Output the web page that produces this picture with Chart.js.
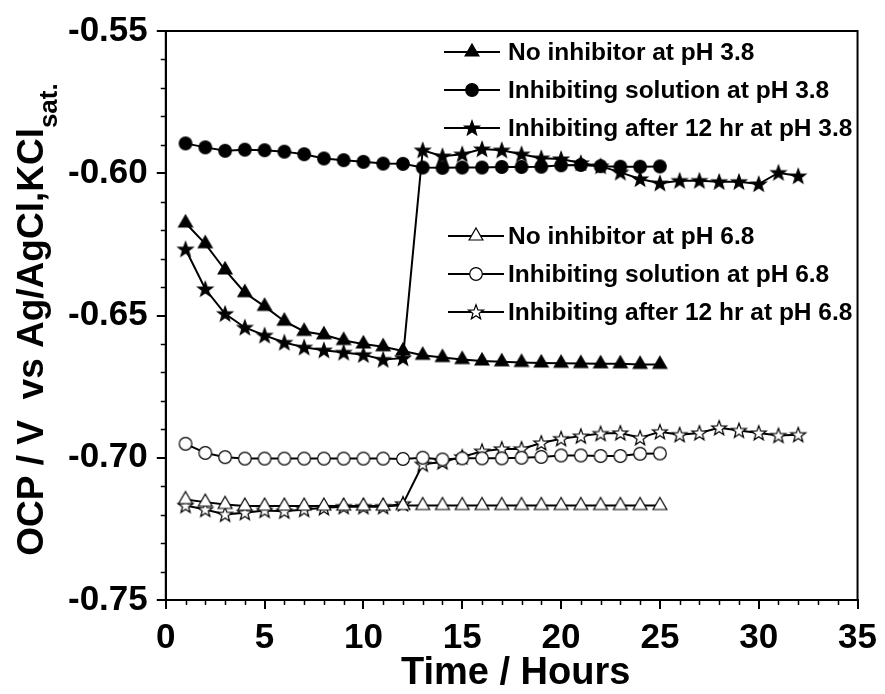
<!DOCTYPE html>
<html>
<head>
<meta charset="utf-8">
<script src="https://cdn.jsdelivr.net/npm/chart.js@4.4.1/dist/chart.umd.min.js"></script>
<style>
  html, body { margin: 0; padding: 0; background: #fff; }
</style>
</head>
<body>
<canvas id="ocpChart" width="885" height="694"></canvas>
<script>
// time axis (hours)
const hoursShort = [1, 2, 3, 4, 5, 6, 7, 8, 9, 10, 11, 12, 13, 14, 15, 16, 17, 18, 19, 20, 21, 22, 23, 24, 25];
const hoursLong = [1, 2, 3, 4, 5, 6, 7, 8, 9, 10, 11, 12, 13, 14, 15, 16, 17, 18, 19, 20, 21, 22, 23, 24, 25,
                   26, 27, 28, 29, 30, 31, 32];

// OCP (V vs Ag/AgCl, KCl sat.) - pH 3.8
const noInhib38 = [-0.6175, -0.6248, -0.6340, -0.6420, -0.6468, -0.6520, -0.6556, -0.6568, -0.6588, -0.6600,
                   -0.6610, -0.6625, -0.6640, -0.6648, -0.6655, -0.6660, -0.6663, -0.6665, -0.6667, -0.6668,
                   -0.6669, -0.6670, -0.6670, -0.6672, -0.6672];
const inhibSol38 = [-0.5895, -0.5909, -0.5921, -0.5917, -0.5919, -0.5924, -0.5933, -0.5948, -0.5954, -0.5960,
                    -0.5966, -0.5967, -0.5980, -0.5981, -0.5980, -0.5980, -0.5978, -0.5978, -0.5977, -0.5972,
                    -0.5971, -0.5975, -0.5977, -0.5977, -0.5976];
const inhibAfter38 = [-0.6267, -0.6407, -0.6494, -0.6542, -0.6570, -0.6595, -0.6612, -0.6622, -0.6630, -0.6638,
                      -0.6655, -0.6650, -0.5919, -0.5940, -0.5933, -0.5915, -0.5919, -0.5933, -0.5947, -0.5950,
                      -0.5964, -0.5975, -0.5997, -0.6020, -0.6035, -0.6026, -0.6026, -0.6030, -0.6030, -0.6038,
                      -0.5998, -0.6010];

// OCP - pH 6.8
const noInhib68 = [-0.7147, -0.7156, -0.7164, -0.7170, -0.7170, -0.7170, -0.7170, -0.7170, -0.7170, -0.7170,
                   -0.7170, -0.7168, -0.7168, -0.7168, -0.7168, -0.7168, -0.7168, -0.7168, -0.7168, -0.7168,
                   -0.7168, -0.7168, -0.7168, -0.7168, -0.7168];
const inhibSol68 = [-0.6951, -0.6983, -0.6998, -0.7003, -0.7003, -0.7003, -0.7003, -0.7003, -0.7003, -0.7003,
                    -0.7003, -0.7004, -0.7000, -0.7006, -0.7002, -0.7002, -0.7002, -0.7000, -0.6997, -0.6992,
                    -0.6992, -0.6994, -0.6994, -0.6986, -0.6985];
const inhibAfter68 = [-0.7168, -0.7182, -0.7199, -0.7193, -0.7185, -0.7188, -0.7182, -0.7176, -0.7172, -0.7172,
                      -0.7172, -0.7162, -0.7023, -0.7015, -0.6997, -0.6977, -0.6969, -0.6969, -0.6948, -0.6933,
                      -0.6924, -0.6915, -0.6913, -0.6930, -0.6909, -0.6919, -0.6913, -0.6895, -0.6904, -0.6913,
                      -0.6922, -0.6919];

const legendTop = ['No inhibitor at pH 3.8', 'Inhibiting solution at pH 3.8', 'Inhibiting after 12 hr at pH 3.8'];
const legendBottom = ['No inhibitor at pH 6.8', 'Inhibiting solution at pH 6.8', 'Inhibiting after 12 hr at pH 6.8'];

const FONT = '"Liberation Sans", Arial, sans-serif';

// small canvases used as point markers
function makeMarker(shape, filled) {
    const size = 20;
    const c = document.createElement('canvas');
    c.width = size; c.height = size;
    const g = c.getContext('2d');
    const m = size / 2;
    g.beginPath();
    if (shape === 'triangle') {
        const r = 8;
        g.moveTo(m, m - r);
        g.lineTo(m + r * 0.866, m + r * 0.5);
        g.lineTo(m - r * 0.866, m + r * 0.5);
        g.closePath();
    } else if (shape === 'circle') {
        g.arc(m, m, 6.3, 0, Math.PI * 2);
    } else {
        const ro = 7.8, ri = 3.2;
        for (let i = 0; i < 10; i++) {
            const r = i % 2 === 0 ? ro : ri;
            const a = -Math.PI / 2 + i * Math.PI / 5;
            const px = m + r * Math.cos(a), py = m + 0.5 + r * Math.sin(a);
            if (i === 0) g.moveTo(px, py); else g.lineTo(px, py);
        }
        g.closePath();
    }
    g.fillStyle = filled ? '#000' : '#fff';
    g.fill();
    g.lineWidth = 1.2;
    g.strokeStyle = '#000';
    g.stroke();
    return c;
}

const markers = {
    triFull: makeMarker('triangle', true),
    dotFull: makeMarker('circle', true),
    starFull: makeMarker('star', true),
    triOpen: makeMarker('triangle', false),
    dotOpen: makeMarker('circle', false),
    starOpen: makeMarker('star', false)
};

function pairs(xs, ys) {
    return ys.map((y, i) => ({ x: xs[i], y: y }));
}

function series(label, xs, ys, marker) {
    return {
        label: label,
        data: pairs(xs, ys),
        borderColor: '#000',
        borderWidth: 2,
        pointStyle: marker,
        pointRadius: 7,
        tension: 0,
        fill: false
    };
}

// frame, minor ticks, axis titles and the two legend blocks
const decorations = {
    id: 'decorations',
    afterDraw(chart) {
        const ctx = chart.ctx;
        const a = chart.chartArea;
        const xs = chart.scales.x, ys = chart.scales.y;
        ctx.save();
        ctx.strokeStyle = '#000';
        ctx.lineWidth = 2;
        ctx.strokeRect(a.left, a.top, a.right - a.left, a.bottom - a.top);

        // minor ticks
        ctx.lineWidth = 1.5;
        ctx.beginPath();
        for (let h = 1; h < 35; h++) {
            if (h % 5 === 0) continue;
            const px = Math.round(xs.getPixelForValue(h)) + 0.5;
            ctx.moveTo(px, a.bottom);
            ctx.lineTo(px, a.bottom + 5);
        }
        for (let k = 1; k < 20; k++) {
            if (k % 5 === 0) continue;
            const py = Math.round(ys.getPixelForValue(-0.75 + k * 0.01)) + 0.5;
            ctx.moveTo(a.left, py);
            ctx.lineTo(a.left - 5, py);
        }
        ctx.stroke();

        ctx.fillStyle = '#000';
        // x title
        ctx.font = 'bold 38px ' + FONT;
        ctx.textAlign = 'center';
        ctx.textBaseline = 'alphabetic';
        ctx.fillText('Time / Hours', (a.left + a.right) / 2 + 4, 684);

        // y title with subscript
        const main = 'OCP / V  vs Ag/AgCl,KCl';
        const sub = 'sat.';
        ctx.font = 'bold 37px ' + FONT;
        const wMain = ctx.measureText(main).width;
        ctx.font = 'bold 26px ' + FONT;
        const wSub = ctx.measureText(sub).width;
        const total = wMain + wSub;
        ctx.translate(43, (a.top + a.bottom) / 2 + 4);
        ctx.rotate(-Math.PI / 2);
        ctx.textAlign = 'left';
        ctx.font = 'bold 37px ' + FONT;
        ctx.fillText(main, -total / 2, 0);
        ctx.font = 'bold 26px ' + FONT;
        ctx.fillText(sub, -total / 2 + wMain, 14);
        ctx.restore();

        // legends
        const drawLegend = (labels, marks, x1, x2, y0) => {
            ctx.save();
            ctx.font = 'bold 24.5px ' + FONT;
            ctx.textBaseline = 'middle';
            ctx.fillStyle = '#000';
            labels.forEach((txt, i) => {
                const y = y0 + i * 38;
                ctx.strokeStyle = '#000';
                ctx.lineWidth = 2;
                ctx.beginPath();
                ctx.moveTo(x1, y);
                ctx.lineTo(x2, y);
                ctx.stroke();
                const mk = marks[i];
                ctx.drawImage(mk, (x1 + x2) / 2 - mk.width / 2, y - mk.height / 2);
                ctx.fillText(txt, 508, y + 1);
            });
            ctx.restore();
        };
        drawLegend(legendTop, [markers.triFull, markers.dotFull, markers.starFull], 444, 500, 52);
        drawLegend(legendBottom, [markers.triOpen, markers.dotOpen, markers.starOpen], 448, 504, 236);
    }
};

new Chart(document.getElementById('ocpChart').getContext('2d'), {
    type: 'line',
    data: {
        datasets: [
            series(legendTop[0], hoursShort, noInhib38, markers.triFull),
            series(legendTop[1], hoursShort, inhibSol38, markers.dotFull),
            series(legendTop[2], hoursLong, inhibAfter38, markers.starFull),
            series(legendBottom[0], hoursShort, noInhib68, markers.triOpen),
            series(legendBottom[1], hoursShort, inhibSol68, markers.dotOpen),
            series(legendBottom[2], hoursLong, inhibAfter68, markers.starOpen)
        ]
    },
    options: {
        responsive: false,
        animation: false,
        devicePixelRatio: 1,
        layout: { autoPadding: false, padding: { left: 59, top: 31, right: 22, bottom: 27 } },
        plugins: { legend: { display: false }, tooltip: { enabled: false } },
        scales: {
            x: {
                type: 'linear',
                min: 0,
                max: 35,
                ticks: { stepSize: 5, color: '#000', padding: 8, font: { family: FONT, size: 35, weight: 'bold' } },
                grid: { drawOnChartArea: false, drawTicks: true, tickLength: 9, color: '#000', lineWidth: 2 },
                border: { display: true, color: '#000', width: 2 }
            },
            y: {
                type: 'linear',
                min: -0.75,
                max: -0.55,
                ticks: {
                    stepSize: 0.05,
                    color: '#000',
                    padding: 9,
                    font: { family: FONT, size: 35, weight: 'bold' },
                    callback: v => v.toFixed(2)
                },
                grid: { drawOnChartArea: false, drawTicks: true, tickLength: 9, color: '#000', lineWidth: 2 },
                border: { display: true, color: '#000', width: 2 }
            }
        }
    },
    plugins: [decorations]
});
</script>
</body>
</html>
